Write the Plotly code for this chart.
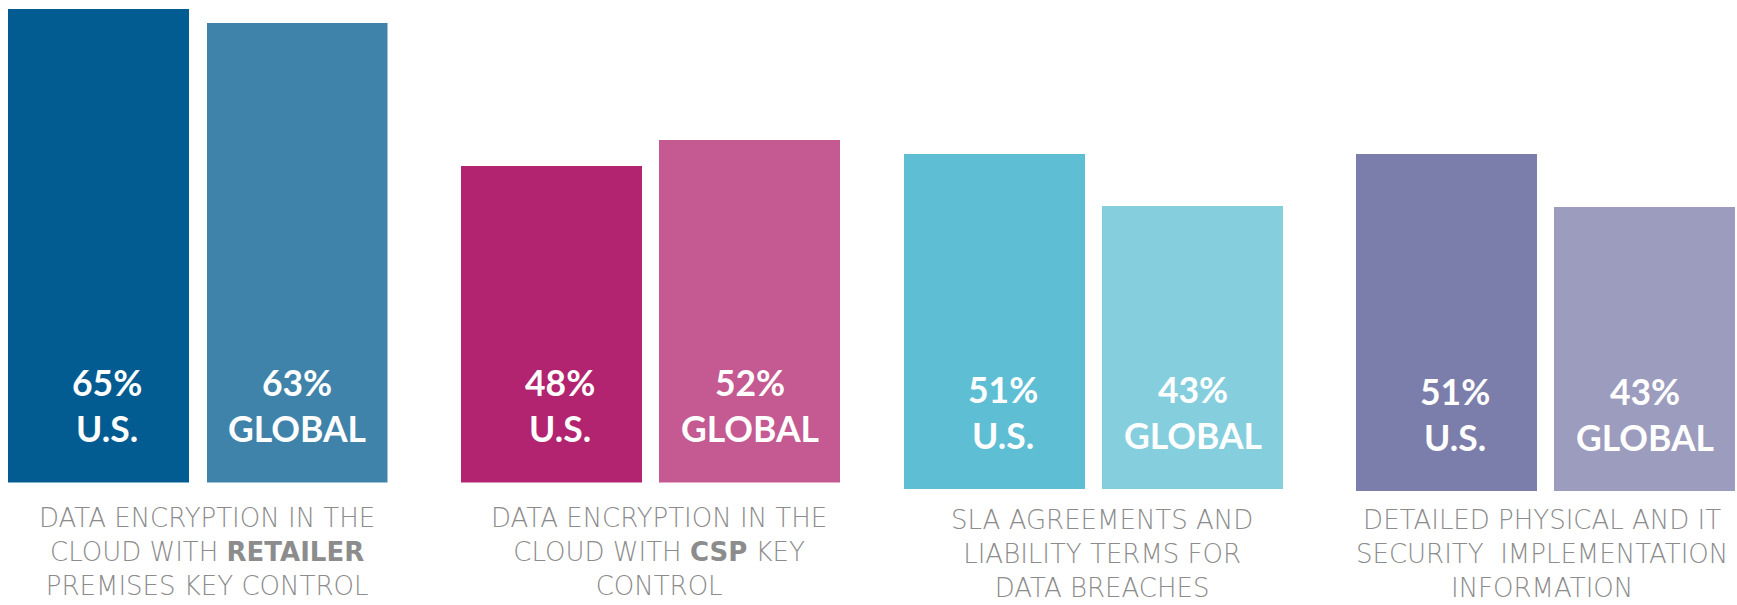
import plotly.graph_objects as go

# ---------------- data ----------------
categories = [
    "DATA ENCRYPTION IN THE<br>CLOUD WITH <b>RETAILER</b><br>PREMISES KEY CONTROL",
    "DATA ENCRYPTION IN THE<br>CLOUD WITH <b>CSP</b> KEY<br>CONTROL",
    "SLA AGREEMENTS AND<br>LIABILITY TERMS FOR<br>DATA BREACHES",
    "DETAILED PHYSICAL AND IT<br>SECURITY&nbsp; IMPLEMENTATION<br>INFORMATION",
]
series_labels = ["U.S.", "GLOBAL"]
us_values = [65, 48, 51, 51]
global_values = [63, 52, 43, 43]

us_colors = ["#035C91", "#B22470", "#5DBED4", "#7B7DAA"]
global_colors = ["#3F83AB", "#C45A91", "#84CEDE", "#9C9CBE"]

# ---------------- layout helpers (pixels of a 1737x605 page) ----------------
W, H = 1737, 605
x_domains_px = [(7.8, 387.5), (461, 840), (904, 1283), (1356, 1735)]
base_px = [482.5, 482.5, 489, 491]
y_ranges = [66.2, 73.2, 74.4, 74.4]
label_center_px = [(206.6, 551.7), (659, 552), (1101.7, 553.5), (1542, 554)]
bar_w = 0.91
half = (1 - bar_w) / 2

fig = go.Figure()
annotations = []
layout_axes = {}

for i in range(4):
    n = "" if i == 0 else str(i + 1)
    fig.add_trace(go.Bar(
        x=series_labels,
        y=[us_values[i], global_values[i]],
        marker=dict(color=[us_colors[i], global_colors[i]], line=dict(width=0)),
        width=bar_w,
        xaxis="x" + n,
        yaxis="y" + n,
        hoverinfo="skip",
        showlegend=False,
    ))
    x0, x1 = x_domains_px[i]
    layout_axes["xaxis" + n] = dict(
        domain=[x0 / W, x1 / W], range=[-0.5 + half, 1.5 - half],
        visible=False, anchor="y" + n, fixedrange=True,
    )
    layout_axes["yaxis" + n] = dict(
        domain=[1 - base_px[i] / H, 1], range=[0, y_ranges[i]],
        visible=False, anchor="x" + n, fixedrange=True,
    )
    # in-bar value labels
    vals = [us_values[i], global_values[i]]
    for j, lab in enumerate(series_labels):
        annotations.append(dict(
            x=lab, xref="x" + n,
            y=1 - (base_px[i] - 77) / H, yref="paper",
            text=f"{vals[j]}%<br>{lab}",
            showarrow=False, xanchor="center", yanchor="middle",
            xshift=9 if j == 0 else 0,
            font=dict(family="Lato", size=35.5, color="white", weight="bold"),
            align="center",
        ))
    # category labels
    cx, cy = label_center_px[i]
    annotations.append(dict(
        x=cx / W, xref="paper", y=1 - cy / H, yref="paper",
        text=categories[i], showarrow=False, borderpad=0,
        xanchor="center", yanchor="middle", align="center",
        font=dict(family="DejaVu Sans", size=26, color="#8c8c8c", weight=300),
    ))

fig.update_layout(
    width=W, height=H,
    margin=dict(l=0, r=0, t=0, b=0),
    paper_bgcolor="white", plot_bgcolor="white",
    annotations=annotations,
    bargap=0,
    **layout_axes,
)

fig.write_html(
    "out.html",
    config={"displayModeBar": False},
    post_script="document.body.style.margin='0';document.body.style.overflow='hidden';",
)
